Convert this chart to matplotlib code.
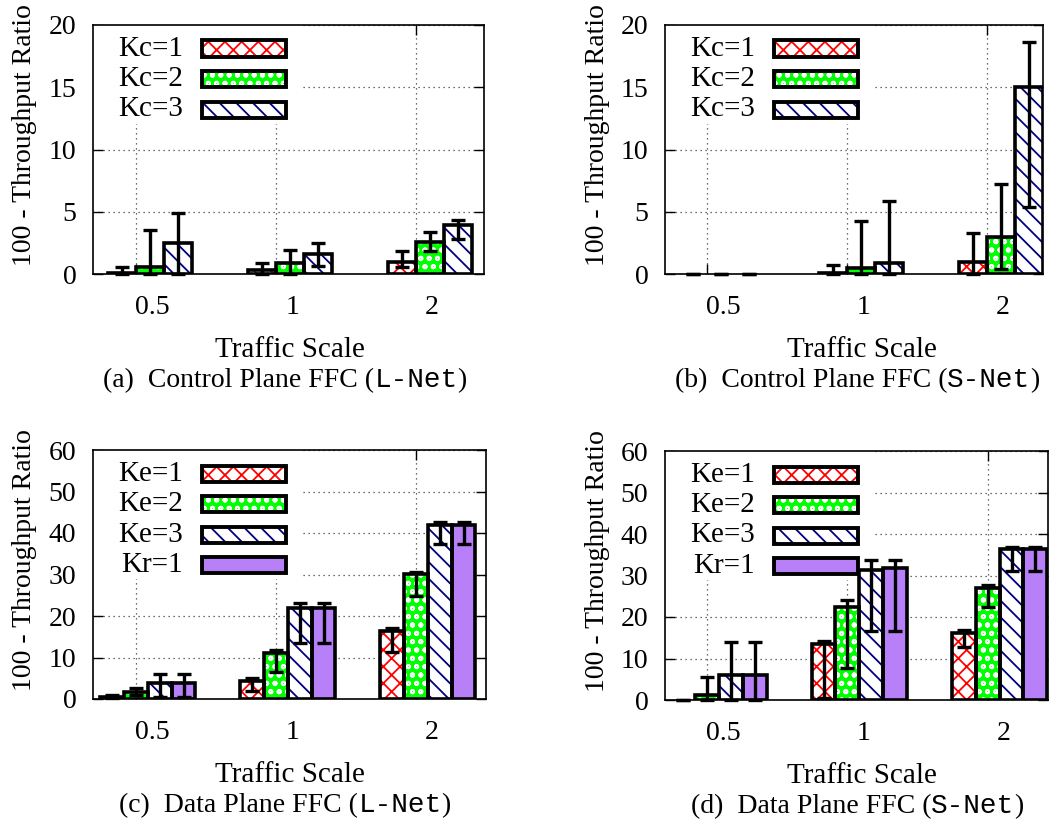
import numpy as np
import matplotlib
matplotlib.use("Agg")
import matplotlib.pyplot as plt
from matplotlib.patches import Rectangle
from matplotlib.offsetbox import TextArea, HPacker, AnnotationBbox

plt.rcParams['font.family'] = ['Liberation Serif', 'DejaVu Serif']
plt.rcParams['hatch.linewidth'] = 1.3

W, H = 1052, 824

# ---------------- data ----------------
scales = ['0.5', '1', '2']

# (a) control plane FFC, L-Net
a_kc1 = [0.1, 0.3, 1.0]
a_kc1_lo = [0.0, 0.0, 0.55]
a_kc1_hi = [0.6, 0.9, 1.85]
a_kc2 = [0.6, 0.9, 2.6]
a_kc2_lo = [0.0, 0.0, 1.85]
a_kc2_hi = [3.5, 1.95, 3.35]
a_kc3 = [2.5, 1.6, 3.9]
a_kc3_lo = [0.0, 0.65, 2.8]
a_kc3_hi = [4.9, 2.45, 4.3]

# (b) control plane FFC, S-Net
b_kc1 = [0.0, 0.1, 1.0]
b_kc1_lo = [0.0, 0.0, 0.0]
b_kc1_hi = [0.0, 0.7, 3.3]
b_kc2 = [0.0, 0.5, 3.0]
b_kc2_lo = [0.0, 0.0, 0.4]
b_kc2_hi = [0.0, 4.25, 7.2]
b_kc3 = [0.0, 0.85, 15.0]
b_kc3_lo = [0.0, 0.0, 5.4]
b_kc3_hi = [0.0, 5.85, 18.65]

# (c) data plane FFC, L-Net
c_ke1 = [0.6, 4.3, 16.4]
c_ke1_lo = [0.3, 2.0, 11.3]
c_ke1_hi = [1.0, 5.1, 17.1]
c_ke2 = [1.7, 11.0, 30.1]
c_ke2_lo = [1.0, 6.5, 24.8]
c_ke2_hi = [2.6, 11.8, 30.6]
c_ke3 = [3.9, 22.0, 42.0]
c_ke3_lo = [0.5, 13.5, 37.3]
c_ke3_hi = [6.0, 23.1, 42.7]
c_kr1 = [3.9, 22.0, 42.0]
c_kr1_lo = [0.5, 13.5, 37.3]
c_kr1_hi = [6.0, 23.1, 42.7]

# (d) data plane FFC, S-Net
d_ke1 = [0.0, 13.4, 16.2]
d_ke1_lo = [0.0, 0.6, 12.7]
d_ke1_hi = [0.0, 14.1, 16.8]
d_ke2 = [1.2, 22.5, 27.0]
d_ke2_lo = [0.0, 7.8, 22.5]
d_ke2_hi = [5.5, 24.0, 27.6]
d_ke3 = [6.0, 31.4, 36.3]
d_ke3_lo = [0.0, 16.6, 31.0]
d_ke3_hi = [13.9, 33.8, 36.9]
d_kr1 = [6.0, 31.7, 36.3]
d_kr1_lo = [0.0, 16.6, 31.0]
d_kr1_hi = [13.9, 33.8, 36.9]

# ---------------- styles ----------------
# (facecolor, hatch, hatch colour)
STYLES = {
    'x': ('white', 'xx', '#ff0000'),
    'o': ('#00ff00', 'oo', 'white'),
    '\\': ('white', '\\\\', '#00007f'),
    's': ('#b880f8', '', '#b880f8'),
}
EDGE_LW = 2.6


def draw_panel(ax, series, ymax, ystep, xlim):
    n = len(series)
    w = 0.2 if n == 3 else 0.17
    x = np.arange(len(scales))
    for i, (label, style, mean, lo, hi) in enumerate(series):
        fc, hatch, hc = STYLES[style]
        xs = x + (i - (n - 1) / 2) * w + w / 2
        mean = np.array(mean)
        ax.bar(xs, mean, w, color=fc, hatch=hatch, edgecolor=hc, lw=0, zorder=2)
        outl = ax.bar(xs, mean, w, fill=False, edgecolor='black', lw=EDGE_LW, zorder=2.5)
        for p, v in zip(outl, mean):
            if v == 0:
                p.set_linewidth(0)
        yerr = [mean - np.array(lo), np.array(hi) - mean]
        eb = ax.errorbar(xs, mean, yerr=yerr, fmt='none', ecolor='black', elinewidth=2.4,
                         capsize=5, capthick=2.4, zorder=3)
        for art in eb.lines[1] + eb.lines[2]:
            art.set_clip_on(False)

    ax.set_xlim(*xlim)
    ax.set_ylim(0, ymax)
    ax.set_yticks(np.arange(0, ymax + 1, ystep))
    ax.set_xticks(x, ['', '', ''])
    ax.set_xticks(x + 0.115, scales, minor=True)
    ax.tick_params(axis='both', which='major', direction='in', length=7, width=1,
                   top=True, right=True, labelsize=20, pad=12)
    ax.tick_params(axis='x', which='minor', length=0, pad=15, labelsize=20)
    ax.grid(True, which='major', linestyle=(0, (1, 3)), color='0.25', lw=0.9)
    ax.set_axisbelow(True)
    for s in ax.spines.values():
        s.set_linewidth(1.2)


def draw_key(ax, series, box):
    # box = axes rectangle in pixels (left, top, right, bottom)
    aw = box[2] - box[0]
    ah = box[3] - box[1]
    n = len(series)
    rows = [23.5 + 30.5 * i for i in range(n)]
    bg_bottom = rows[-1] + 14
    ax.add_patch(Rectangle((0, 1 - bg_bottom / ah), 210 / aw, bg_bottom / ah,
                           transform=ax.transAxes, facecolor='white', edgecolor='none',
                           zorder=1.5))
    for (label, style, *_), r in zip(series, rows):
        fc, hatch, hc = STYLES[style]
        y0 = 1 - (r + 8) / ah
        ax.add_patch(Rectangle((109 / aw, y0), 84 / aw, 16 / ah, transform=ax.transAxes,
                               facecolor=fc, hatch=hatch, edgecolor=hc, lw=0, zorder=4,
                               clip_on=False))
        ax.add_patch(Rectangle((109 / aw, y0), 84 / aw, 16 / ah, transform=ax.transAxes,
                               fill=False, edgecolor='black', lw=2.8, zorder=4.5,
                               clip_on=False))
        ax.text(90 / aw, 1 - r / ah, label, transform=ax.transAxes, ha='right',
                va='center', fontsize=21, zorder=5)


def caption(fig, letter, plane, net, cx, cy):
    parts = [TextArea(f"({letter})  {plane} Plane FFC (",
                      textprops=dict(family='Liberation Serif', size=20)),
             TextArea(net, textprops=dict(family='Liberation Mono', size=20)),
             TextArea(")", textprops=dict(family='Liberation Serif', size=20))]
    pack = HPacker(children=parts, pad=0, sep=0, align='baseline')
    ab = AnnotationBbox(pack, (cx / W, 1 - cy / H), xycoords='figure fraction',
                        frameon=False, box_alignment=(0.5, 0.5))
    fig.add_artist(ab)


fig = plt.figure(figsize=(W / 100, H / 100), dpi=100)

panels = [
    # box px, series, ymax, ystep, xlim, caption
    ((93, 25, 484, 274),
     [('Kc=1', 'x', a_kc1, a_kc1_lo, a_kc1_hi),
      ('Kc=2', 'o', a_kc2, a_kc2_lo, a_kc2_hi),
      ('Kc=3', '\\', a_kc3, a_kc3_lo, a_kc3_hi)],
     20, 5, (-0.307, 2.486), ('a', 'Control', 'L-Net')),
    ((665, 25, 1043, 274),
     [('Kc=1', 'x', b_kc1, b_kc1_lo, b_kc1_hi),
      ('Kc=2', 'o', b_kc2, b_kc2_lo, b_kc2_hi),
      ('Kc=3', '\\', b_kc3, b_kc3_lo, b_kc3_hi)],
     20, 5, (-0.30, 2.40), ('b', 'Control', 'S-Net')),
    ((93, 450, 486, 699),
     [('Ke=1', 'x', c_ke1, c_ke1_lo, c_ke1_hi),
      ('Ke=2', 'o', c_ke2, c_ke2_lo, c_ke2_hi),
      ('Ke=3', '\\', c_ke3, c_ke3_lo, c_ke3_hi),
      ('Kr=1', 's', c_kr1, c_kr1_lo, c_kr1_hi)],
     60, 10, (-0.307, 2.50), ('c', 'Data', 'L-Net')),
    ((665, 451, 1048, 700),
     [('Ke=1', 'x', d_ke1, d_ke1_lo, d_ke1_hi),
      ('Ke=2', 'o', d_ke2, d_ke2_lo, d_ke2_hi),
      ('Ke=3', '\\', d_ke3, d_ke3_lo, d_ke3_hi),
      ('Kr=1', 's', d_kr1, d_kr1_lo, d_kr1_hi)],
     60, 10, (-0.30, 2.43), ('d', 'Data', 'S-Net')),
]

for box, series, ymax, ystep, xlim, cap in panels:
    l, t, r, b = box
    ax = fig.add_axes([l / W, 1 - b / H, (r - l) / W, (b - t) / H])
    draw_panel(ax, series, ymax, ystep, xlim)
    draw_key(ax, series, box)
    # labels placed like the gnuplot original
    ylx = l - 68
    yly = t + 110
    fig.text(ylx / W, 1 - yly / H, '100 - Throughput Ratio', rotation=90,
             ha='center', va='center', fontsize=20)
    cx = l + 197
    fig.text(cx / W, 1 - (b + 76) / H, 'Traffic Scale', ha='center', va='center',
             fontsize=21)
    caption(fig, cap[0], cap[1], cap[2], cx - 5, b + 106)

fig.savefig('out.png', dpi=100)
